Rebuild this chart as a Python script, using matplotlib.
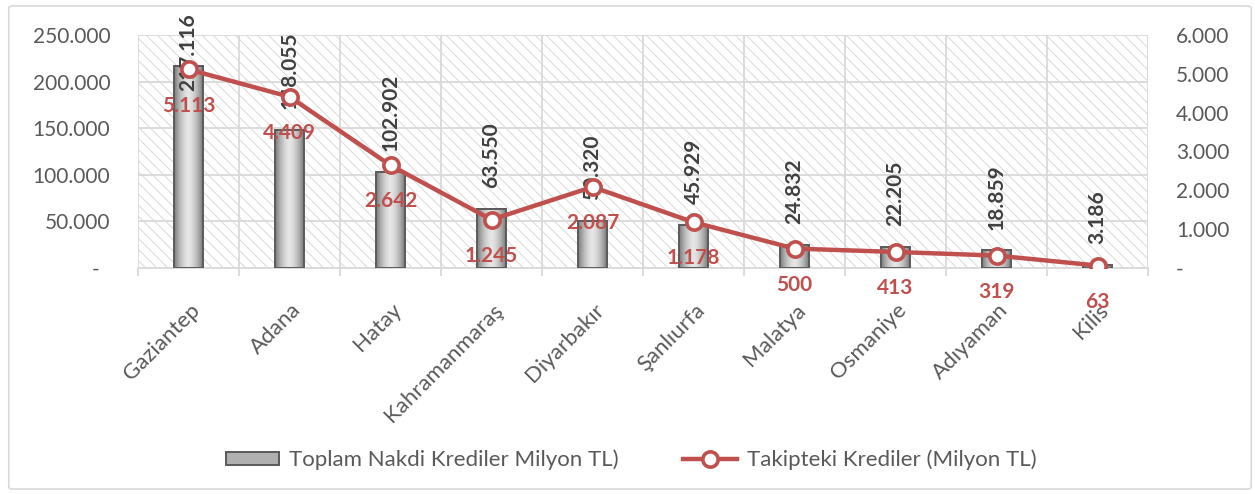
import numpy as np
import matplotlib
matplotlib.use('Agg')
import matplotlib.pyplot as plt
from matplotlib.patches import Rectangle, FancyBboxPatch
from matplotlib.lines import Line2D
from matplotlib.transforms import ScaledTranslation

# --- datos ---
iller = ['Gaziantep', 'Adana', 'Hatay', 'Kahramanmaraş', 'Diyarbakır',
         'Şanlıurfa', 'Malatya', 'Osmaniye', 'Adıyaman', 'Kilis']
nakdi_krediler = [217116, 148055, 102902, 63550, 50320, 45929, 24832, 22205, 18859, 3186]
takipteki_krediler = [5113, 4409, 2642, 1245, 2087, 1178, 500, 413, 319, 63]

sol_ticks = [0, 50000, 100000, 150000, 200000, 250000]
sag_ticks = [0, 1000, 2000, 3000, 4000, 5000, 6000]

KIRMIZI = '#c0504d'
GRI_YAZI = '#595959'
IZGARA = '#d9d9d9'


def tr_sayi(v):
    """Binlik ayraci nokta olan sayi, sifir icin tire."""
    if v == 0:
        return '-'
    return f"{v:,.0f}".replace(',', '.')


plt.rcParams['font.family'] = ['Lato', 'DejaVu Sans']
plt.rcParams['hatch.linewidth'] = 0.6

fig = plt.figure(figsize=(12.55, 4.94), dpi=100)
ax = fig.add_axes([0.110, 0.4575, 0.8048, 0.4717])
ax2 = ax.twinx()

# dis cerceve
fig.patches.append(FancyBboxPatch((0.007, 0.01), 0.99, 0.978, boxstyle='round,pad=0,rounding_size=0.004',
                                  transform=fig.transFigure, facecolor='none', edgecolor=IZGARA, lw=1.2))

# taramali arka plan
ax.add_patch(Rectangle((0, 0), 1, 1, transform=ax.transAxes, facecolor='white',
                       edgecolor='#d4d4d4', hatch='\\\\\\', lw=0, zorder=0))

x = np.arange(len(iller))
cubuklar = ax.bar(x, nakdi_krediler, width=0.28, facecolor='none', edgecolor='#5a5a5a', lw=1.4, zorder=3)

# cubuk gradyani (kenarlar koyu, orta acik)
t = np.linspace(-1, 1, 64)
grad = (0.9 - 0.42 * np.abs(t) ** 1.6)[None, :]
for r in cubuklar:
    ax.imshow(grad, extent=(r.get_x(), r.get_x() + r.get_width(), 0, r.get_height()),
              cmap='gray', vmin=0, vmax=1, aspect='auto', interpolation='bicubic', zorder=2.5)

ax.set_xlim(-0.5, len(iller) - 0.5)
ax.set_ylim(0, 250000)
ax2.set_ylim(0, 6000)

# izgara
ax.set_yticks(sol_ticks)
ax.set_yticklabels([tr_sayi(v) if v else '-  ' for v in sol_ticks])
ax.set_xticks(x)
ax.set_xticks(np.arange(-0.5, len(iller), 1), minor=True)
ax.grid(axis='y', color=IZGARA, lw=1.3, zorder=1)
ax.grid(axis='x', which='minor', color=IZGARA, lw=1.3, zorder=1)
ax.set_axisbelow(True)

for s in ['top', 'left', 'right']:
    ax.spines[s].set_visible(False)
    ax2.spines[s].set_visible(False)
ax.spines['bottom'].set_color(IZGARA)
ax.spines['bottom'].set_linewidth(1.3)
ax2.spines['bottom'].set_visible(False)

ax.tick_params(axis='y', length=0, pad=20, labelsize=15, labelcolor=GRI_YAZI)
ax.tick_params(axis='x', which='major', length=0, pad=28, labelsize=16, labelcolor=GRI_YAZI)
ax.tick_params(axis='x', which='minor', length=6, width=1.3, color=IZGARA)

ax.set_xticklabels(iller, rotation=45, ha='right', va='center', rotation_mode='anchor')
kaydir = ScaledTranslation(0.08, 0, fig.dpi_scale_trans)
for lbl in ax.get_xticklabels():
    lbl.set_transform(lbl.get_transform() + kaydir)

ax2.set_yticks(sag_ticks)
ax2.set_yticklabels([tr_sayi(v) for v in sag_ticks])
ax2.tick_params(axis='y', length=0, pad=20, labelsize=15, labelcolor=GRI_YAZI)

# cizgi
ax2.plot(x, takipteki_krediler, color=KIRMIZI, lw=3.2, marker='o', ms=11,
         mfc='white', mec=KIRMIZI, mew=2.6, zorder=4)

# veri etiketleri (grafigin ustune tasan etiket asagi itilir, Excel gibi)
etiket_siniri = ax.get_ylim()[1] * 0.67
for i, v in enumerate(nakdi_krediler):
    ax.annotate(tr_sayi(v), (i, min(v, etiket_siniri)), xytext=(0, 15), textcoords='offset points',
                rotation=90, ha='center', va='bottom', fontsize=15, fontweight='bold',
                color='#404040', annotation_clip=False, zorder=5)

for i, v in enumerate(takipteki_krediler):
    ax2.annotate(tr_sayi(v), (i, v), xytext=(0, -26), textcoords='offset points',
                 ha='center', va='center', fontsize=15, fontweight='bold',
                 color=KIRMIZI, annotation_clip=False, zorder=6)

# lejant
el_bar = Rectangle((0, 0), 1, 1, facecolor='#b0b0b0', edgecolor='#5a5a5a', lw=1.4)
el_cizgi = Line2D([], [], color=KIRMIZI, lw=3.2, marker='o', ms=11, mfc='white', mec=KIRMIZI, mew=2.6)
fig.legend([el_bar, el_cizgi], ['Toplam Nakdi Krediler Milyon TL)', 'Takipteki Krediler (Milyon TL)'],
           loc='center', bbox_to_anchor=(0.503, 0.069), ncol=2, frameon=False,
           fontsize=16, labelcolor=GRI_YAZI, handlelength=2.4, handleheight=0.5,
           handletextpad=0.45, columnspacing=2.9)

fig.savefig('out.png', dpi=100)
